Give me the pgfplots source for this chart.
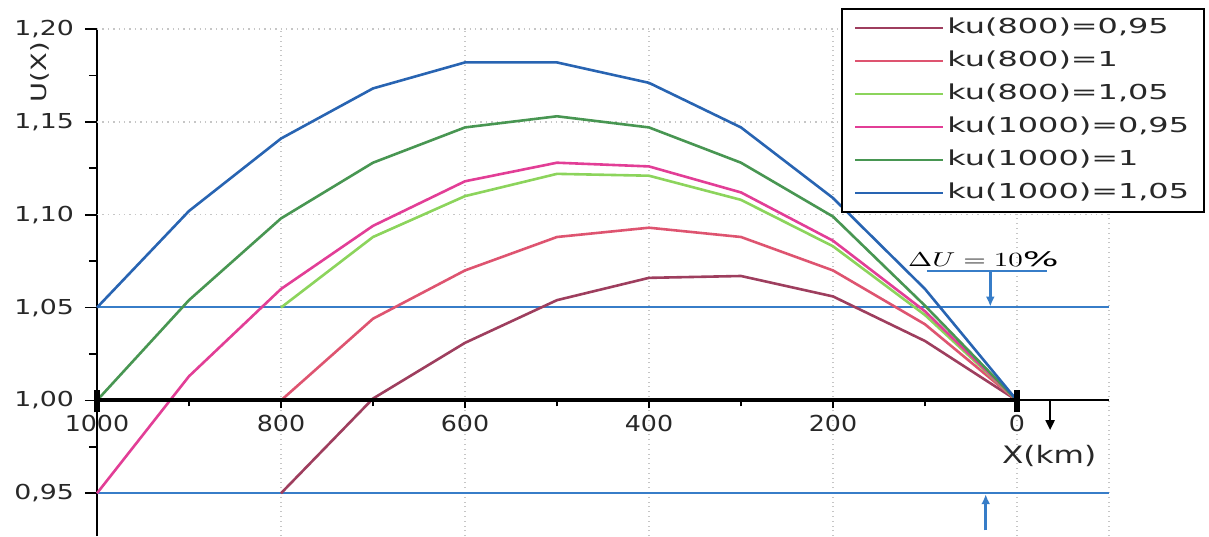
\documentclass[border=0pt]{standalone}
\usepackage{pgfplots}
\pgfplotsset{compat=1.18}
\usepackage{fontspec}
\setmainfont{DejaVu Sans}[FakeStretch=1.3]
\newfontfamily\xfont{DejaVu Sans}[FakeStretch=1.15]
\newfontfamily\legfont{DejaVu Sans}[FakeStretch=1.55]
\usetikzlibrary{arrows.meta}
\definecolor{cA}{RGB}{158,62,94}
\definecolor{cB}{RGB}{222,84,112}
\definecolor{cC}{RGB}{140,212,92}
\definecolor{cD}{RGB}{226,62,150}
\definecolor{cE}{RGB}{72,150,82}
\definecolor{cF}{RGB}{40,100,178}
\definecolor{refblue}{RGB}{55,125,200}
\definecolor{txt}{RGB}{40,40,40}
\begin{document}
\begin{tikzpicture}
\useasboundingbox (-48.5pt,0pt) rectangle (556pt,268pt);
\begin{axis}[
  name=main,
  at={(0pt,0pt)}, anchor=south west,
  scale only axis, width=506pt, height=253.5pt,
  x dir=reverse, xmin=-100, xmax=1000, ymin=0.927, ymax=1.20,
  axis lines*=left,
  x axis line style={draw=none},
  y axis line style={black, line width=0.8pt},
  xtick={800,600,400,200,0,-100}, xticklabels={},
  xtick style={draw=none},
  ytick={0.95,1,1.05,1.1,1.15,1.2},
  minor ytick={0.975,1.025,1.075,1.125,1.175},
  ytick style={black, line width=0.8pt},
  tick align=outside, major tick length=6pt, minor tick length=4pt,
  xmajorgrids,
  major grid style={gray!45, dotted, line width=0.7pt},
  yticklabel style={font=\fontsize{10.3}{12}\selectfont, text=txt, xshift=-2pt,
    /pgf/number format/.cd, fixed, fixed zerofill, precision=2, use comma, assume math mode=true},
  ylabel={U(X)},
  ylabel style={at={(axis description cs:-0.056,0.915)}, anchor=center,
    font=\fontsize{10.5}{12}\selectfont, text=txt},
  legend style={at={(1.0949,1.0414)}, anchor=north east, draw=black, line width=0.9pt,
    font=\legfont\fontsize{10.3}{12}\selectfont, text=txt,
    nodes={inner sep=1.5pt, text height=7.6pt, text depth=2.4pt},
    row sep=3.5pt, inner xsep=6pt, inner ysep=3pt},
  legend cell align=left,
  legend image code/.code={\draw[#1] (0pt,0pt) -- (44pt,0pt);},
  clip=false,
]
\addplot[forget plot, gray!45, dotted, line width=0.7pt] coordinates {(1000,1.10) (-100,1.10)};
\addplot[forget plot, gray!45, dotted, line width=0.7pt] coordinates {(1000,1.15) (-100,1.15)};
\addplot[forget plot, gray!45, dotted, line width=0.7pt] coordinates {(1000,1.20) (-100,1.20)};
\addplot[forget plot, refblue, line width=1.1pt] coordinates {(1000,1.0502) (-100,1.0502)};
\addplot[forget plot, refblue, line width=1.1pt] coordinates {(1000,0.95) (-100,0.95)};

\addplot[cA, line width=1.3pt] coordinates {
(800,0.950) (700,1.001) (600,1.031) (500,1.054) (400,1.066) (300,1.067) (200,1.056) (100,1.032) (0,1.000)};
\addlegendentry{ku(800)=0,95}
\addplot[cB, line width=1.3pt] coordinates {
(800,1.000) (700,1.044) (600,1.070) (500,1.088) (400,1.093) (300,1.088) (200,1.070) (100,1.041) (0,1.000)};
\addlegendentry{ku(800)=1}
\addplot[cC, line width=1.3pt] coordinates {
(800,1.050) (700,1.088) (600,1.110) (500,1.122) (400,1.121) (300,1.108) (200,1.083) (100,1.046) (0,1.000)};
\addlegendentry{ku(800)=1,05}
\addplot[cD, line width=1.3pt] coordinates {
(1000,0.950) (900,1.013) (800,1.060) (700,1.094) (600,1.118) (500,1.128) (400,1.126) (300,1.112) (200,1.086) (100,1.048) (0,1.000)};
\addlegendentry{ku(1000)=0,95}
\addplot[cE, line width=1.3pt] coordinates {
(1000,1.000) (900,1.054) (800,1.098) (700,1.128) (600,1.147) (500,1.153) (400,1.147) (300,1.128) (200,1.099) (100,1.051) (0,1.000)};
\addlegendentry{ku(1000)=1}
\addplot[cF, line width=1.3pt] coordinates {
(1000,1.050) (900,1.102) (800,1.141) (700,1.168) (600,1.182) (500,1.182) (400,1.171) (300,1.147) (200,1.109) (100,1.060) (0,1.000)};
\addlegendentry{ku(1000)=1,05}

\draw[refblue, line width=1pt] (axis cs:98,1.0695) -- (axis cs:-33,1.0695);
\draw[refblue, line width=1.3pt, -{Latex[length=5pt,width=4.5pt]}] (axis cs:29,1.0695) -- (axis cs:29,1.0505);
\draw[refblue, line width=1.3pt, -{Latex[length=5pt,width=4.5pt]}] (axis cs:34,0.930) -- (axis cs:34,0.9495);
\node[anchor=south, inner sep=1pt] at (axis cs:41,1.0705) {\scalebox{1.45}[1]{$\Delta U = 10\%$}};
\node[font=\fontsize{12}{14}\selectfont, text=txt] at (axis cs:-35,0.9703) {X(km)};
\end{axis}
\begin{axis}[
  at={(0pt,67.79pt)}, anchor=south west,
  scale only axis, width=506pt, height=185.7pt,
  x dir=reverse, xmin=-100, xmax=1000, ymin=1, ymax=1.2,
  axis x line*=bottom, hide y axis,
  x axis line style={black, line width=1pt},
  xtick={1000,800,600,400,200,0}, minor xtick={900,700,500,300,100},
  tick align=outside, major tick length=4pt, minor tick length=3pt,
  xtick style={black, line width=0.8pt},
  xticklabel style={font=\xfont\fontsize{11}{12}\selectfont, text=txt,
    /pgf/number format/.cd, 1000 sep={}, assume math mode=true},
  clip=false,
]
\draw[black, line width=2pt] (axis cs:1000,1) -- (axis cs:0,1);
\draw[black, line width=3pt] (axis cs:1000,0.9935) -- (axis cs:1000,1.0054);
\draw[black, line width=3pt] (axis cs:0,0.9935) -- (axis cs:0,1.0054);
\draw[black, line width=1pt, -{Triangle[length=5pt,width=4.5pt]}] (axis cs:-36,1) -- (axis cs:-36,0.984);
\end{axis}
\end{tikzpicture}
\end{document}
